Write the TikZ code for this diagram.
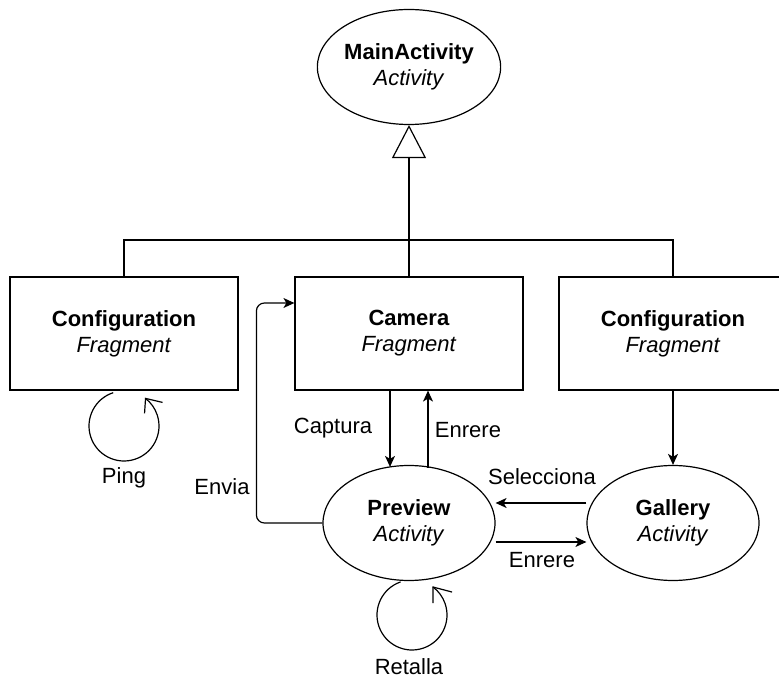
\documentclass[tikz,border=0pt]{standalone}
\usepackage{fontspec}
\setmainfont{Liberation Sans}
\usetikzlibrary{arrows.meta,shapes.geometric}
\begin{document}
\begin{tikzpicture}[x=1pt,y=1pt,
  line width=1.2pt,
  txt/.style={font=\fontsize{22}{26}\selectfont, inner sep=0pt},
  box/.style={txt, draw, minimum width=228pt, minimum height=113pt, align=center},
  oval/.style={txt, draw, ellipse, minimum width=172pt, minimum height=115pt, align=center},
  arr/.style={-{Stealth[length=11pt,width=10pt,inset=3pt]}},
  lbl/.style={txt}
]
\useasboundingbox (0,0) rectangle (779,680);

% nodes
\node[oval] (M) at (409,613) {\textbf{MainActivity}\\\textit{Activity}};
\node[box] (L) at (124,346.5) {\textbf{Configuration}\\\textit{Fragment}};
\node[box] (C) at (409,346.5) {\textbf{Camera}\\\textit{Fragment}};
\node[box] (R) at (673,346.5) {\textbf{Configuration}\\\textit{Fragment}};
\node[oval] (P) at (409,157) {\textbf{Preview}\\\textit{Activity}};
\node[oval] (G) at (673,157) {\textbf{Gallery}\\\textit{Activity}};

% inheritance
\coordinate (hub) at (409,440);
\draw (L.north) -- (L.north |- hub) -- (R.north |- hub) -- (R.north);
\draw[-{Triangle[open,length=33pt,width=34pt]}] (C.north) -- (M.south);

% Camera <-> Preview
\draw[arr] ([xshift=-19pt]C.south) -- ([xshift=-19pt,yshift=-2pt]C.south |- P.north);
\draw[arr] ([xshift=19pt,yshift=-3pt]C.south |- P.north) -- ([xshift=19pt]C.south);
\node[lbl] (lcap) at (333,252) {Captura};
\node[lbl] (lenr1) at (468,250) {Enrere};

% Envia
\draw[arr, rounded corners=8pt] (P.west) -- ++(-66,0) |- ([yshift=30.5pt]C.west);
\node[lbl] (lenv) at (222,193) {Envia};

% Config -> Gallery
\draw[arr] (R.south) -- (G.north);

% Gallery <-> Preview
\draw[arr] ([yshift=20pt]G.west) -- ([yshift=20pt]P.east);
\draw[arr] ([yshift=-19pt]P.east) -- ([yshift=-19pt]G.west);
\node[lbl] (lsel) at (542,203) {Selecciona};
\node[lbl] (lenr2) at (542,120) {Enrere};

% self loops
\coordinate (lc1) at (124,254);
\coordinate (t1) at ([shift={(52:35pt)}]lc1);
\draw ([shift={(108:35pt)}]lc1) arc[start angle=108, end angle=412, radius=35pt];
\draw ([shift={(17,-4)}]t1) -- (t1) -- ([shift={(-1,-15)}]t1);
\node[lbl] (lping) at (124,202) {Ping};
\coordinate (lc2) at (412,65);
\coordinate (t2) at ([shift={(53:35pt)}]lc2);
\draw ([shift={(109:35pt)}]lc2) arc[start angle=109, end angle=413, radius=35pt];
\draw ([shift={(19,-5)}]t2) -- (t2) -- ([shift={(0,-16)}]t2);
\node[lbl] (lret) at (409,13) {Retalla};
\end{tikzpicture}
\end{document}
